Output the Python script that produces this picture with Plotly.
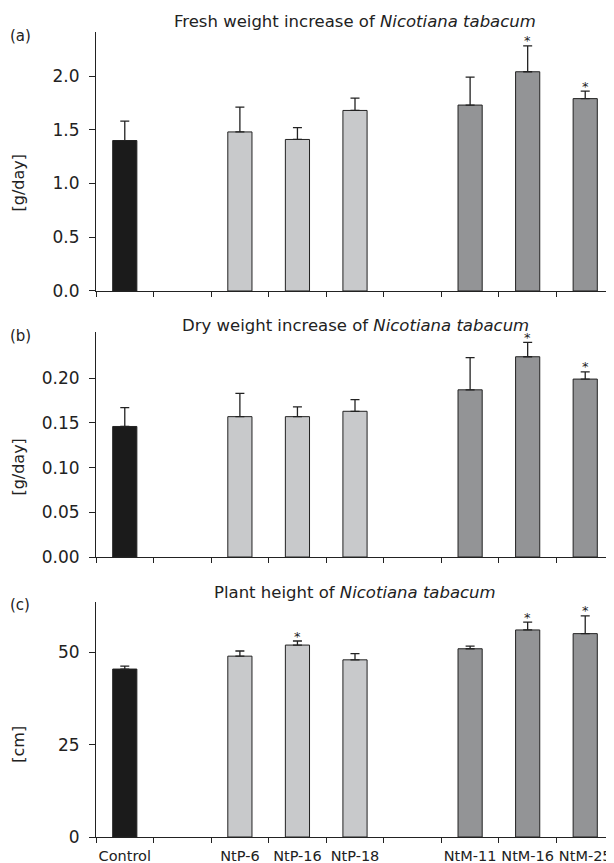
import plotly.graph_objects as go

# ---- data ----
slots = ["Control", " ", "NtP-6", "NtP-16", "NtP-18", "  ", "NtM-11", "NtM-16", "NtM-25"]
ctrl_cats = ["Control"]
ntp_cats = ["NtP-6", "NtP-16", "NtP-18"]
ntm_cats = ["NtM-11", "NtM-16", "NtM-25"]

fresh_ctrl = [1.40]; fresh_ctrl_err = [0.18]
fresh_ntp = [1.48, 1.41, 1.68]; fresh_ntp_err = [0.23, 0.11, 0.115]
fresh_ntm = [1.73, 2.04, 1.79]; fresh_ntm_err = [0.26, 0.24, 0.07]
fresh_sig = {"NtM-16": True, "NtM-25": True}

dry_ctrl = [0.146]; dry_ctrl_err = [0.021]
dry_ntp = [0.157, 0.157, 0.163]; dry_ntp_err = [0.026, 0.011, 0.013]
dry_ntm = [0.187, 0.224, 0.199]; dry_ntm_err = [0.036, 0.016, 0.008]
dry_sig = {"NtM-16": True, "NtM-25": True}

height_ctrl = [45.5]; height_ctrl_err = [0.8]
height_ntp = [49.0, 52.0, 48.0]; height_ntp_err = [1.4, 1.1, 1.7]
height_ntm = [51.0, 56.1, 55.1]; height_ntm_err = [0.7, 2.1, 4.8]
height_sig = {"NtP-16": True, "NtM-16": True, "NtM-25": True}

titles = ["Fresh weight increase of <i>Nicotiana tabacum</i>",
          "Dry weight increase of <i>Nicotiana tabacum</i>",
          "Plant height of <i>Nicotiana tabacum</i>"]
panel_labels = ["(a)", "(b)", "(c)"]
y_titles = ["[g/day]", "[g/day]", "[cm]"]
y_ticks = [[0, 0.5, 1.0, 1.5, 2.0], [0, 0.05, 0.10, 0.15, 0.20], [0, 25, 50]]
y_fmt = [".1f", ".2f", "d"]
y_ranges = [[0, 2.41], [0, 0.252], [0, 63.6]]

COL_CTRL = "#1b1b1b"
COL_NTP = "#c8c9cb"
COL_NTM = "#939496"
LINE = "#222222"
FONT = "DejaVu Sans, sans-serif"

panels = [
    (fresh_ctrl, fresh_ctrl_err, fresh_ntp, fresh_ntp_err, fresh_ntm, fresh_ntm_err, fresh_sig),
    (dry_ctrl, dry_ctrl_err, dry_ntp, dry_ntp_err, dry_ntm, dry_ntm_err, dry_sig),
    (height_ctrl, height_ctrl_err, height_ntp, height_ntp_err, height_ntm, height_ntm_err, height_sig),
]

domains = [[0.6783, 1.0], [0.3478, 0.6277], [0.0, 0.2916]]
title_shift = [11, 6, 10]
label_shift = [-4, -4, -3]

fig = go.Figure()
layout = dict(
    width=614, height=863,
    # page body has an 8px margin, so the figure is offset by (8, 8)
    margin=dict(l=88, r=8, t=24, b=34),
    plot_bgcolor="white", paper_bgcolor="white",
    barmode="overlay", showlegend=False,
    font=dict(family=FONT, size=16, color=LINE),
    annotations=[],
)

for i, (c, ce, p, pe, m, me, sig) in enumerate(panels):
    n = i + 1
    xa = "x" if n == 1 else f"x{n}"
    ya = "y" if n == 1 else f"y{n}"
    for cats, vals, errs, col in [(ctrl_cats, c, ce, COL_CTRL), (ntp_cats, p, pe, COL_NTP), (ntm_cats, m, me, COL_NTM)]:
        fig.add_trace(go.Bar(
            x=cats, y=vals, width=0.42, xaxis=xa, yaxis=ya,
            marker=dict(color=col, line=dict(color=LINE, width=1)),
            error_y=dict(type="data", array=errs, arrayminus=[0] * len(errs), symmetric=False,
                         color=LINE, thickness=1.3, width=4.5),
        ))
    all_cats = ctrl_cats + ntp_cats + ntm_cats
    all_vals = c + p + m
    all_errs = ce + pe + me
    for k, v, e in zip(all_cats, all_vals, all_errs):
        if sig.get(k):
            layout["annotations"].append(dict(
                text="*", x=k, y=v + e, xref=xa, yref=ya, xanchor="center", yanchor="middle",
                yshift=5, showarrow=False, font=dict(size=13, color=LINE)))

    xkey = "xaxis" if n == 1 else f"xaxis{n}"
    ykey = "yaxis" if n == 1 else f"yaxis{n}"
    layout[xkey] = dict(
        type="category", categoryorder="array", categoryarray=slots,
        range=[-0.5, 8.5], anchor=ya, domain=[0, 1], automargin=False,
        showline=True, linecolor=LINE, linewidth=1,
        ticks="outside", tickson="boundaries", ticklen=5, tickcolor=LINE, tickwidth=1,
        showticklabels=(n == 3), tickangle=0, tickfont=dict(size=14.5), ticklabelstandoff=6,
        showgrid=False, zeroline=False,
    )
    layout[ykey] = dict(
        domain=domains[i], anchor=xa, range=y_ranges[i], automargin=False,
        tickmode="array", tickvals=y_ticks[i], tickformat=y_fmt[i],
        showline=True, linecolor=LINE, linewidth=1,
        ticks="outside", ticklen=6, tickcolor=LINE, tickwidth=1, ticklabelstandoff=6,
        showgrid=False, zeroline=False, tickfont=dict(size=17),
    )
    layout["annotations"].append(dict(
        text=y_titles[i], xref="paper", yref=ya, x=0, y=y_ticks[i][-1] / 2,
        xanchor="center", yanchor="middle", xshift=-77, textangle=-90,
        showarrow=False, font=dict(size=16)))
    layout["annotations"].append(dict(
        text=titles[i], xref=f"{xa} domain", yref=f"{ya} domain", x=0.5, y=1,
        xanchor="center", yanchor="middle", yshift=title_shift[i], showarrow=False,
        font=dict(size=16.5)))
    layout["annotations"].append(dict(
        text=panel_labels[i], xref="paper", yref=f"{ya} domain", x=0, y=1,
        xanchor="left", yanchor="middle", xshift=-88, yshift=label_shift[i],
        showarrow=False, font=dict(size=15)))

fig.update_layout(**layout)
fig.write_html("out.html")
